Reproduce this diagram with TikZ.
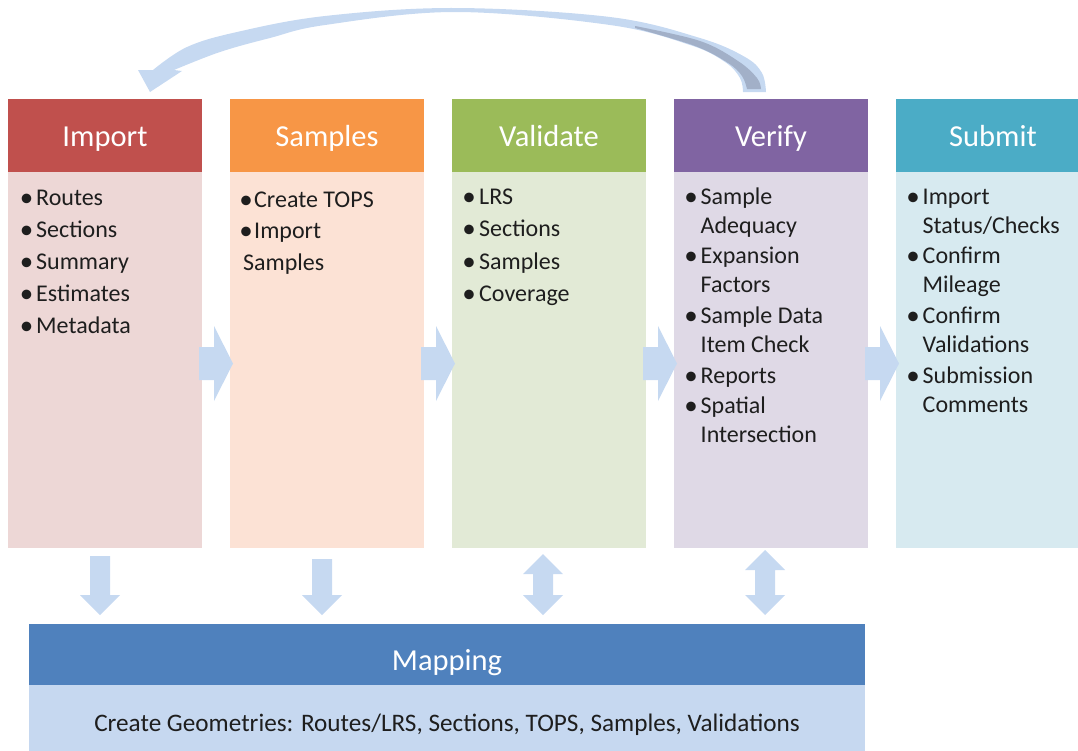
\documentclass[tikz,border=0pt]{standalone}
\usepackage{fontspec}
\setmainfont{Carlito}
\definecolor{impH}{HTML}{C0504D}\definecolor{impB}{HTML}{EDD7D6}
\definecolor{samH}{HTML}{F79646}\definecolor{samB}{HTML}{FCE2D5}
\definecolor{valH}{HTML}{9BBB59}\definecolor{valB}{HTML}{E2EAD6}
\definecolor{verH}{HTML}{8064A2}\definecolor{verB}{HTML}{DFD9E6}
\definecolor{subH}{HTML}{4BACC6}\definecolor{subB}{HTML}{D7EAF0}
\definecolor{mapH}{HTML}{4F81BD}\definecolor{mapB}{HTML}{C6D8F0}
\definecolor{arrC}{HTML}{C6D9F1}\definecolor{arrD}{HTML}{A2B0C8}
\definecolor{txt}{HTML}{1E1E1E}
\begin{document}
\begin{tikzpicture}[x=1pt,y=-1pt,
  box/.style={draw=none,inner sep=0pt,outer sep=0pt,anchor=north west},
  hlabel/.style={text=white,font=\fontsize{30.5}{34}\selectfont,anchor=base,inner sep=0pt},
  itm/.style={text=txt,font=\fontsize{24}{28}\selectfont,anchor=base west,inner sep=0pt},
  bul/.style={text=txt,font=\fontsize{27}{30}\selectfont,anchor=base,inner sep=0pt,yshift=-1pt,xshift=-1pt},
  blk/.style={fill=arrC,draw=none}]
\useasboundingbox (0,0) rectangle (1078,750);

% column boxes
\node[box,fill=impH,minimum width=194,minimum height=73] (impH) at (8,99) {};
\node[box,fill=impB,minimum width=194,minimum height=376] (impB) at (8,172) {};
\node[box,fill=samH,minimum width=194,minimum height=73] (samH) at (230,99) {};
\node[box,fill=samB,minimum width=194,minimum height=376] (samB) at (230,172) {};
\node[box,fill=valH,minimum width=194,minimum height=73] (valH) at (452,99) {};
\node[box,fill=valB,minimum width=194,minimum height=376] (valB) at (452,172) {};
\node[box,fill=verH,minimum width=194,minimum height=73] (verH) at (674,99) {};
\node[box,fill=verB,minimum width=194,minimum height=376] (verB) at (674,172) {};
\node[box,fill=subH,minimum width=182,minimum height=73] (subH) at (896,99) {};
\node[box,fill=subB,minimum width=182,minimum height=376] (subB) at (896,172) {};

\node[hlabel] (impT) at (105,146) {Import};
\node[hlabel] (samT) at (327,146) {Samples};
\node[hlabel] (valT) at (549,146) {Validate};
\node[hlabel] (verT) at (771,146) {Verify};
\node[hlabel] (subT) at (993,146) {Submit};

% mapping
\node[box,fill=mapH,minimum width=836,minimum height=61] (mapH) at (29,624) {};
\node[box,fill=mapB,minimum width=836,minimum height=66] (mapB) at (29,685) {};
\node[hlabel] (mapT) at (447,670) {Mapping};
\node[text=txt,font=\fontsize{25.2}{28}\selectfont,anchor=base,inner sep=0pt] (mapS) at (447,731) {Create Geometries: Routes/LRS, Sections, TOPS, Samples, Validations};

% Import items
\foreach \t/\y [count=\i] in {Routes/205,Sections/237,Summary/269,Estimates/301,Metadata/333}{
  \node[bul] (ib\i) at (27.5,\y) {•};
  \node[itm] (it\i) at (36,\y) {\t};
}
% Samples items
\node[bul] (sb1) at (247,207) {•};
\node[itm] (st1) at (254,207) {Create TOPS};
\node[bul] (sb2) at (247,238) {•};
\node[itm] (st2) at (254,238) {Import};
\node[itm] (st3) at (243,270) {Samples};
% Validate items
\foreach \t/\y [count=\i] in {LRS/204,Sections/236,Samples/269,Coverage/301}{
  \node[bul] (vb\i) at (470,\y) {•};
  \node[itm] (vt\i) at (479,\y) {\t};
}
% Verify items
\foreach \y [count=\i] in {204,263,323,383,413}{\node[bul] (rb\i) at (692,\y) {•};}
\foreach \t/\y [count=\i] in {Sample/204,Adequacy/233,Expansion/263,Factors/292,Sample Data/323,Item Check/352,Reports/383,Spatial/413,Intersection/442}{
  \node[itm] (rt\i) at (700.5,\y) {\t};
}
% Submit items
\foreach \y [count=\i] in {204,263,323,383}{\node[bul] (ub\i) at (914,\y) {•};}
\foreach \t/\y [count=\i] in {Import/204,{Status/Checks}/233,Confirm/263,Mileage/292,Confirm/323,Validations/352,Submission/383,Comments/412}{
  \node[itm] (ut\i) at (922.5,\y) {\t};
}

% right block arrows
\foreach \r in {202,424,646,868}{
  \fill[blk] ({\r-3},347) -- ({\r+12},347) -- ({\r+12},326) -- ({\r+31},363.5)
    -- ({\r+12},401) -- ({\r+12},380) -- ({\r-3},380) -- cycle;
}
% down arrows
\foreach \c/\t in {100/556,322/559}{
  \fill[blk] ({\c-10},\t) -- ({\c+10},\t) -- ({\c+10},595) -- ({\c+20},595) -- (\c,615)
    -- ({\c-20},595) -- ({\c-10},595) -- cycle;
}
% double arrows
\foreach \c/\t/\b in {543/554/574,765/550/570}{
  \fill[blk] (\c,\t) -- ({\c+20},\b) -- ({\c+10},\b) -- ({\c+10},595) -- ({\c+20},595)
    -- (\c,615) -- ({\c-20},595) -- ({\c-10},595) -- ({\c-10},\b) -- ({\c-20},\b) -- cycle;
}

% curved arrow from Verify back to Import
\fill[arrC] (150,92) -- (182,71) -- (174,70)
  -- plot[smooth,tension=0.6] coordinates {(174,70) (220,52) (270,38) (325,25) (455,12) (610,25) (690,45) (725,62) (740,78) (743,92)}
  -- (766,92)
  -- plot[smooth,tension=0.6] coordinates {(766,92) (762,73) (745,57) (700,38) (610,17) (455,8) (325,16) (237,32) (187,47) (153,70)}
  -- (138,70) -- cycle;
\fill[arrD] plot[smooth,tension=0.6] coordinates {(635,26) (700,41) (738,61) (757,78) (761,89)}
  -- (747,89)
  -- plot[smooth,tension=0.6] coordinates {(747,89) (742,76) (728,63) (695,46) (635,28)} -- cycle;
\end{tikzpicture}
\end{document}
